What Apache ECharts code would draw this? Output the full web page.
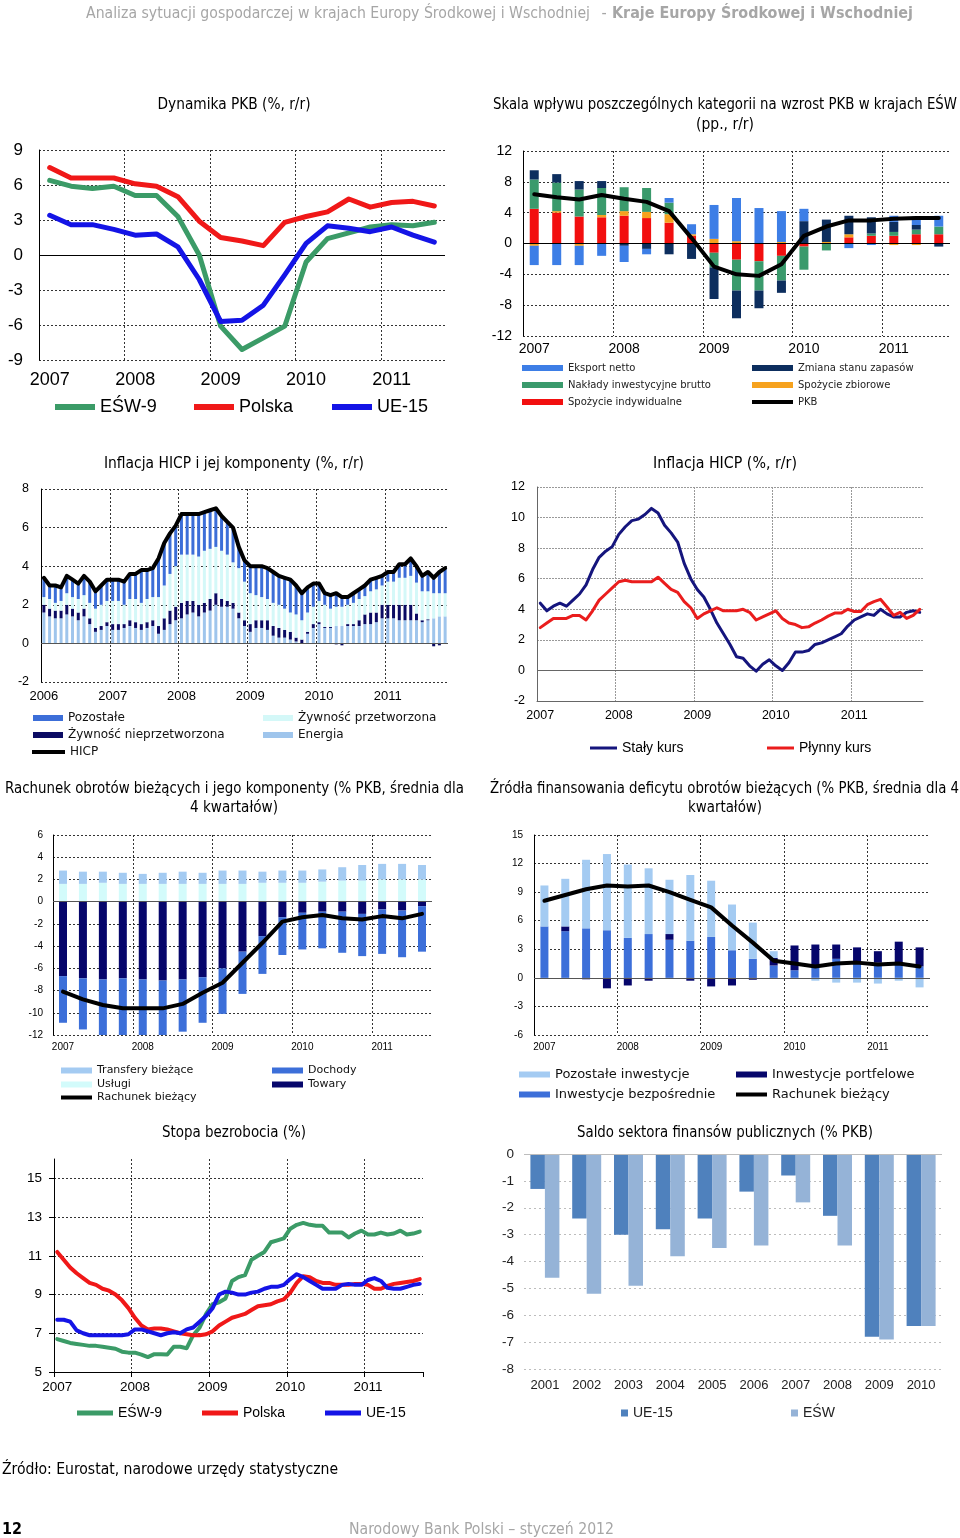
<!DOCTYPE html>
<html><head><meta charset="utf-8">
<script src="https://cdn.jsdelivr.net/npm/echarts@6/dist/echarts.min.js"></script>
<style>html,body{margin:0;padding:0;background:#fff}#c{width:960px;height:1538px}</style>
</head><body><div id="c"></div>
<script>
// ---------- categories ----------
const QUARTERS = ['2007Q1','2007Q2','2007Q3','2007Q4','2008Q1','2008Q2','2008Q3','2008Q4','2009Q1','2009Q2','2009Q3','2009Q4','2010Q1','2010Q2','2010Q3','2010Q4','2011Q1','2011Q2','2011Q3'];
function monthCats(y0, n){const a=[];for(let i=0;i<n;i++){const y=y0+Math.floor(i/12),m=i%12+1;a.push(y+'-'+(m<10?'0':'')+m);}return a;}
const MONTHS_2006 = monthCats(2006, 71);
const MONTHS_2007A = monthCats(2007, 59);
const MONTHS_2007B = monthCats(2007, 57);
const YEARS = ['2001','2002','2003','2004','2005','2006','2007','2008','2009','2010'];

// ---------- P1: Dynamika PKB ----------
const gdpESW = [6.4,5.9,5.7,5.9,5.1,5.1,3.3,0.0,-6.1,-8.1,-7.1,-6.1,-0.6,1.4,1.9,2.4,2.6,2.5,2.8];
const gdpPL  = [7.5,6.6,6.6,6.6,6.1,5.9,5.0,2.9,1.5,1.2,0.8,2.8,3.3,3.7,4.8,4.1,4.5,4.6,4.2];
const gdpEU  = [3.4,2.6,2.6,2.2,1.7,1.8,0.7,-2.1,-5.7,-5.6,-4.3,-1.7,1.0,2.5,2.3,2.0,2.4,1.7,1.1];

// ---------- P2: contributions ----------
const spozInd  = [4.5,4.0,3.5,3.4,3.6,3.3,2.7,1.0,-1.2,-2.1,-2.3,-1.6,-0.4,0,0.8,1.0,1.0,1.2,1.2];
const spozZb   = [-0.3,0.2,-0.3,0.3,0.6,0.8,1.1,0.2,0.6,0.3,0,0.2,0,0.2,0.4,0,-0.2,-0.2,0];
const naklady  = [3.8,3.7,3.5,3.5,3.1,3.1,1.5,0,-1.9,-4.0,-3.8,-3.2,-3.0,-0.9,0,0.3,0.5,0.6,1.0];
const zapasy   = [1.2,1.1,1.1,0.9,-0.3,-0.7,-1.4,-2.0,-4.1,-3.6,-2.3,-1.6,2.9,2.9,2.4,2.1,1.3,0.6,-0.4];
const eksport  = [-2.5,-2.8,-2.5,-1.6,-2.1,-0.7,0.6,1.3,4.4,5.6,4.6,4.0,1.6,0,-0.6,-0.2,0.8,1.1,1.4];
const pkbLine  = [6.4,6.0,5.7,6.3,5.8,5.4,4.2,0.7,-3.0,-4.0,-4.2,-2.7,1.0,2.2,3.0,3.0,3.2,3.3,3.3];

// ---------- P3: HICP components (monthly 2006-01 .. 2011-11) ----------
const energia = [1.6,1.4,1.3,1.3,1.5,1.4,1.2,1.4,1.0,0.6,0.7,0.9,
  0.7,0.7,0.8,0.9,0.8,0.7,0.8,0.9,0.5,0.7,1.0,1.2,
  1.3,1.5,1.6,1.4,1.6,1.7,2.0,1.9,1.9,1.8,1.3,0.9,
  0.6,0.8,0.8,0.7,0.4,0.3,0.3,0.2,0.1,0.0,0.5,0.8,
  1.0,0.8,0.8,0.9,0.9,0.9,0.9,0.9,1.0,1.0,1.1,1.3,
  1.3,1.3,1.2,1.2,1.2,1.2,1.1,1.2,1.3,1.4,1.4];
const zywNieprz = [0.4,0.4,0.4,0.4,0.5,0.4,0.4,0.4,0.3,0.2,0.2,0.2,
  0.3,0.3,0.2,0.3,0.3,0.3,0.3,0.3,0.4,0.6,0.7,0.7,
  0.8,0.7,0.6,0.6,0.5,0.6,0.6,0.4,0.3,0.3,0.3,0.3,
  0.4,0.4,0.4,0.5,0.5,0.5,0.4,0.4,0.2,0.2,0.1,0.2,
  0.1,0.05,0.05,-0.05,-0.1,0.1,0.1,0.3,0.5,0.6,0.5,0.7,
  0.7,0.7,0.8,0.8,0.8,0.35,0.1,0.05,-0.15,-0.1,0.0];
const zywPrzetw = [0.4,0.5,0.4,0.5,0.6,0.6,0.7,0.7,0.8,1.0,1.1,1.1,
  1.2,1.2,1.0,1.1,1.2,1.1,1.2,1.2,1.5,1.7,1.9,2.1,
  2.5,2.4,2.4,2.5,2.7,2.6,2.4,2.5,2.4,2.1,2.3,2.0,
  1.6,1.3,1.2,1.1,1.2,1.2,1.1,1.0,1.2,1.0,1.0,0.9,
  1.1,1.15,0.95,1.0,1.0,1.0,1.1,1.1,0.95,1.1,1.2,1.0,
  1.2,1.2,1.4,1.4,1.5,1.6,1.5,1.45,1.3,1.2,1.2];
const pozostale = [1.0,0.7,0.9,0.7,0.9,0.9,0.8,1.0,1.1,0.9,1.0,1.1,
  1.1,1.1,1.2,1.3,1.3,1.7,1.5,1.5,2.0,2.2,2.1,2.1,
  2.1,2.1,2.1,2.2,2.0,2.0,2.0,1.8,1.7,1.8,1.1,1.1,
  1.4,1.5,1.6,1.6,1.6,1.5,1.6,1.7,1.5,1.4,1.3,1.2,
  0.9,0.6,0.7,0.7,0.5,0.4,0.5,0.5,0.6,0.6,0.6,0.5,
  0.5,0.5,0.7,0.7,0.9,0.9,0.8,1.0,0.8,1.1,1.3];
const hicp = [3.4,3.0,3.0,2.9,3.5,3.3,3.1,3.5,3.2,2.7,3.0,3.3,
  3.3,3.3,3.2,3.6,3.6,3.8,3.8,3.9,4.4,5.2,5.7,6.1,
  6.7,6.7,6.7,6.7,6.8,6.9,7.0,6.6,6.3,6.0,5.0,4.3,
  4.0,4.0,4.0,3.9,3.7,3.5,3.4,3.3,3.0,2.6,2.9,3.1,
  3.1,2.6,2.5,2.6,2.4,2.4,2.6,2.8,3.0,3.3,3.4,3.5,
  3.7,3.7,4.1,4.1,4.4,4.0,3.5,3.7,3.4,3.7,3.9];

// ---------- P4: HICP fixed vs floating (monthly 2007-01 .. 2011-11) ----------
const stalyKurs = [4.4,3.9,4.2,4.4,4.2,4.6,5.0,5.6,6.6,7.4,7.8,8.1,
  8.9,9.4,9.8,9.9,10.2,10.6,10.3,9.5,9.0,8.4,7.0,6.0,
  5.3,4.8,4.0,3.1,2.4,1.7,0.9,0.8,0.3,-0.05,0.4,0.7,
  0.3,0.0,0.5,1.2,1.2,1.3,1.7,1.8,2.0,2.2,2.4,2.9,
  3.3,3.5,3.7,3.6,4.0,3.7,3.5,3.5,3.8,3.9,3.8];
const plynnyKurs = [2.8,3.1,3.4,3.4,3.4,3.6,3.6,3.3,3.9,4.6,5.0,5.4,
  5.8,5.9,5.8,5.8,5.8,5.8,6.1,5.7,5.3,5.1,4.5,4.1,
  3.4,3.7,3.9,4.1,3.9,3.9,3.9,4.0,3.8,3.3,3.5,3.7,
  3.9,3.4,3.1,3.0,2.8,2.85,3.1,3.3,3.55,3.75,3.75,4.0,
  3.85,3.85,4.3,4.5,4.65,4.15,3.6,3.8,3.4,3.6,4.0];

// ---------- P5: current account ----------
const uslugi    = [1.6,1.6,1.7,1.6,1.6,1.6,1.6,1.6,1.6,1.6,1.7,1.7,1.7,1.8,1.9,1.9,2.0,2.0,2.0];
const transfery = [1.2,1.1,1.0,1.0,0.9,1.0,1.1,1.0,1.2,1.2,1.0,1.1,1.1,1.1,1.2,1.4,1.4,1.4,1.3];
const towary    = [-6.7,-6.9,-7.0,-6.9,-7.0,-7.1,-7.0,-6.8,-6.0,-4.5,-3.1,-1.4,-1.0,-0.9,-0.9,-1.1,-0.7,-0.8,-0.4];
const dochody   = [-4.2,-4.6,-5.0,-5.2,-5.0,-5.0,-4.7,-4.1,-4.1,-3.8,-3.4,-3.4,-3.3,-3.3,-3.7,-3.8,-4.0,-4.2,-4.1];
const rachunek  = [-8.1,-8.8,-9.3,-9.6,-9.6,-9.6,-9.2,-8.2,-7.3,-5.5,-3.7,-1.8,-1.4,-1.2,-1.5,-1.6,-1.3,-1.5,-1.1];

// ---------- P6: financing ----------
const invBezp   = [5.4,4.9,5.2,5.0,4.2,4.6,4.0,3.9,4.3,2.9,2.0,1.3,0.8,1.2,2.0,1.6,1.6,1.5,1.2];
const invPortf  = [0,0.5,-0.15,-1.1,-0.8,-0.3,0.6,-0.3,-0.9,-0.8,-0.2,0.8,2.6,2.3,1.5,1.6,1.2,2.3,2.0];
const invPozost = [4.3,5.0,7.2,8.0,7.7,6.9,5.7,6.9,5.9,4.8,3.8,0.7,-0.1,-0.3,-0.5,-0.5,-0.6,-0.3,-1.0];
const deficyt   = [8.1,8.7,9.3,9.7,9.6,9.7,9.0,8.2,7.4,5.5,3.7,1.8,1.5,1.2,1.5,1.6,1.4,1.5,1.2];

// ---------- P7: unemployment (monthly 2007-01 .. 2011-09) ----------
const bezrESW = [6.7,6.6,6.5,6.45,6.4,6.35,6.35,6.3,6.25,6.2,6.05,6.0,
  6.0,5.9,5.77,5.92,5.92,5.9,6.3,6.3,6.23,6.9,7.3,8.0,
  8.5,8.6,8.8,9.7,9.9,10.0,10.8,11.0,11.2,11.7,11.8,11.9,
  12.4,12.6,12.7,12.6,12.55,12.55,12.2,12.2,12.2,11.95,12.15,12.3,
  12.1,12.1,12.2,12.1,12.15,12.3,12.1,12.15,12.25];
const bezrPL = [11.2,10.8,10.4,10.1,9.85,9.6,9.5,9.3,9.2,9.0,8.7,8.3,
  7.8,7.4,7.2,7.25,7.25,7.2,7.1,7.0,6.95,6.9,6.9,6.95,
  7.1,7.4,7.6,7.8,7.9,8.0,8.2,8.4,8.45,8.5,8.65,8.75,
  9.1,9.6,9.95,9.9,9.7,9.6,9.6,9.5,9.5,9.5,9.55,9.55,
  9.5,9.3,9.3,9.45,9.55,9.6,9.65,9.7,9.8];
const bezrEU = [7.7,7.7,7.6,7.15,7.0,6.9,6.9,6.9,6.9,6.9,6.9,6.95,
  7.2,7.2,7.1,7.0,6.9,7.0,7.05,7.0,7.2,7.3,7.6,7.9,
  8.3,9.0,9.15,9.1,9.0,9.0,9.1,9.15,9.3,9.4,9.4,9.5,
  9.8,10.05,9.9,9.7,9.5,9.3,9.3,9.3,9.5,9.55,9.5,9.5,
  9.75,9.85,9.7,9.35,9.3,9.3,9.4,9.5,9.55];
const bezrTicks = [5,7,9,11,13,15];

// ---------- P8: general government balance ----------
const saldoUE  = [-1.3,-2.4,-3.0,-2.8,-2.4,-1.4,-0.8,-2.3,-6.8,-6.4];
const saldoESW = [-4.6,-5.2,-4.9,-3.8,-3.5,-3.4,-1.8,-3.4,-6.9,-6.4];

// ================= build =================
const FA = "'Liberation Sans', Arial, sans-serif";
const FD = "'DejaVu Sans', Verdana, sans-serif";
const FT = "'DejaVu Sans Condensed', 'DejaVu Sans', sans-serif";
const GREEN='#3b9b67', RED='#f01818', BLUE='#1414e6';

const grids=[], xAxes=[], yAxes=[], series=[], legends=[], graphics=[];

function grid(l,t,w,h){grids.push({left:l,top:t,width:w,height:h,containLabel:false,outerBoundsMode:'none'});return grids.length-1;}
function xCat(gi,data,o){
  xAxes.push({type:'category',gridIndex:gi,data,boundaryGap:true,
    axisLine:{show:!!o.line,onZero:false,lineStyle:{color:o.lc||'#000',width:1}},
    axisTick:{show:!!o.tick,interval:o.iv,length:5,inside:false,lineStyle:{color:o.lc||'#000'}},
    axisLabel:{interval:o.iv,formatter:o.fmt||(v=>v.slice(0,4)),fontSize:o.fs,fontFamily:FA,color:o.tc||'#000',margin:o.m,hideOverlap:false},
    splitLine:{show:o.split!==false,interval:o.iv,showMinLine:true,showMaxLine:false,lineStyle:{color:o.gc||'#333',type:o.gt||[2,2],width:1}}});
}
function yVal(gi,o){
  yAxes.push({type:'value',gridIndex:gi,min:o.min,max:o.max,interval:o.iv,
    axisLine:{show:o.line!==false,onZero:false,lineStyle:{color:o.lc||'#000',width:1}},
    axisTick:{show:!!o.tick,length:5,lineStyle:{color:o.lc||'#000'},customValues:o.cv},
    axisLabel:{fontSize:o.fs,fontFamily:FA,color:o.tc||'#000',margin:o.m,customValues:o.cv,hideOverlap:false},
    splitLine:{show:true,customValues:o.cv,lineStyle:{color:o.gc||'#333',type:o.gt||[2,2],width:1}}});
}
function zeroLine(color){return {silent:true,symbol:['none','none'],label:{show:false},lineStyle:{color,type:'solid',width:1},data:[{yAxis:0}],animation:false};}
function line(gi,name,data,color,w,extra){series.push(Object.assign({type:'line',name,data,xAxisIndex:gi,yAxisIndex:gi,symbol:'none',z:5,
  lineStyle:{color,width:w,cap:'round',join:'round'},itemStyle:{color}},extra||{}));}
function bar(gi,name,data,color,stack,bw,extra){series.push(Object.assign({type:'bar',name,data,xAxisIndex:gi,yAxisIndex:gi,stack,barWidth:bw,
  itemStyle:{color}},extra||{}));}
function lg(name,color,x,yc,o){
  legends.push({show:true,data:[{name,icon:'rect',itemStyle:{color,borderWidth:0,borderColor:color}}],left:x,
    top:Math.round(yc-Math.max(o.h,o.fs)/2),padding:0,itemGap:0,itemWidth:o.w,itemHeight:o.h,selectedMode:false,
    textStyle:{fontSize:o.fs,fontFamily:o.ff||FA,color:o.c||'#000'}});
}
const cv=document.createElement('canvas').getContext('2d');
function T(text,x,y,o){
  o=o||{};const fs=o.fs||16,ff=o.ff||FT,fw=o.fw||'normal';
  cv.font=fw+' '+fs+'px '+ff;const m=cv.measureText(text).width;
  const s=o.w?o.w/m:1;
  graphics.push({type:'text',x,y:y+1.5,scaleX:s,silent:true,z:100,style:{text,fontSize:fs,fontFamily:ff,fontWeight:fw,fill:o.c||'#000',
    align:o.a||'center',verticalAlign:'middle',textAlign:o.a||'center',textVerticalAlign:'middle'}});
}

// ---- P1
let g=grid(39,150,406,210);
xCat(g,QUARTERS,{iv:3,fs:18,m:11});
yVal(g,{min:-9,max:9,iv:3,fs:17,m:16});
line(g,'EŚW-9',gdpESW,GREEN,5,{markLine:zeroLine('#000')});
line(g,'Polska',gdpPL,RED,5);
line(g,'UE-15',gdpEU,BLUE,5);
lg('EŚW-9',GREEN,55,407,{w:40,h:6,fs:18});
lg('Polska',RED,194,407,{w:40,h:6,fs:18});
lg('UE-15',BLUE,332,407,{w:40,h:6,fs:18});

// ---- P2
g=grid(523,151,427,185);
xCat(g,QUARTERS,{iv:3,fs:14,m:6});
yVal(g,{min:-12,max:12,iv:4,fs:14,m:11});
bar(g,'Spożycie indywidualne',spozInd,'#f20f0f','p2',9);
bar(g,'Spożycie zbiorowe',spozZb,'#f6a21e','p2',9);
bar(g,'Nakłady inwestycyjne brutto',naklady,'#3a9a6c','p2',9);
bar(g,'Zmiana stanu zapasów',zapasy,'#0d2e5e','p2',9);
bar(g,'Eksport netto',eksport,'#3d7ee6','p2',9);
line(g,'PKB',pkbLine,'#000',4,{markLine:zeroLine('#000')});
const o2={w:41,h:6,fs:10,ff:FD,c:'#222'};
lg('Eksport netto','#3d7ee6',522,368,o2);
lg('Nakłady inwestycyjne brutto','#3a9a6c',522,385,o2);
lg('Spożycie indywidualne','#f20f0f',522,402,o2);
lg('Zmiana stanu zapasów','#0d2e5e',752,368,o2);
lg('Spożycie zbiorowe','#f6a21e',752,385,o2);
lg('PKB','#000',752,402,Object.assign({},o2,{h:4}));

// ---- P3
g=grid(41,489,407,193);
xCat(g,MONTHS_2006,{iv:11,fs:13,m:8});
yVal(g,{min:-2,max:8,iv:2,fs:12.5,m:12});
bar(g,'Energia',energia,'#9fc5ec','p3',3);
bar(g,'Żywność nieprzetworzona',zywNieprz,'#0b0b63','p3',3);
bar(g,'Żywność przetworzona',zywPrzetw,'#d4f8f8','p3',3);
bar(g,'Pozostałe',pozostale,'#3c6ed8','p3',3);
line(g,'HICP',hicp,'#000',4,{markLine:zeroLine('#555')});
const o3={w:30,h:6,fs:12,ff:FD,c:'#111'};
lg('Pozostałe','#3c6ed8',33,718,o3);
lg('Żywność nieprzetworzona','#0b0b63',33,735,o3);
lg('HICP','#000',32,752,Object.assign({},o3,{w:33,h:4}));
lg('Żywność przetworzona','#d4f8f8',263,718,o3);
lg('Energia','#9fc5ec',263,735,o3);

// ---- P4
g=grid(537,487,386,214);
xCat(g,MONTHS_2007A,{iv:11,fs:12.5,m:8,line:true,lc:'#666',gc:'#999',gt:[2,1]});
yVal(g,{min:-2,max:12,iv:2,fs:12.5,m:12,lc:'#666',gc:'#999',gt:[2,1]});
line(g,'Stały kurs',stalyKurs,'#15157d',3,{markLine:zeroLine('#666')});
line(g,'Płynny kurs',plynnyKurs,'#ea1d1d',3);
lg('Stały kurs','#15157d',590,748,{w:27,h:3,fs:14});
lg('Płynny kurs','#ea1d1d',767,748,{w:27,h:3,fs:14});

// ---- P5
g=grid(53,835,379,200);
xCat(g,QUARTERS,{iv:3,fs:10,m:7});
yVal(g,{min:-12,max:6,iv:2,fs:10,m:10});
bar(g,'Usługi',uslugi,'#d3fbfb','p5',8);
bar(g,'Transfery bieżące',transfery,'#a4cbf2','p5',8);
bar(g,'Towary',towary,'#06066b','p5',8);
bar(g,'Dochody',dochody,'#3c6fd9','p5',8);
line(g,'Rachunek bieżący',rachunek,'#000',4,{markLine:zeroLine('#555')});
const o5={w:31,h:6,fs:11,ff:FD,c:'#111'};
lg('Transfery bieżące','#a4cbf2',61,1070,o5);
lg('Usługi','#d3fbfb',61,1084,o5);
lg('Rachunek bieżący','#000',61,1097,Object.assign({},o5,{h:4}));
lg('Dochody','#3c6fd9',272,1070,o5);
lg('Towary','#06066b',272,1084,o5);

// ---- P6
g=grid(534,835,396,200);
xCat(g,QUARTERS,{iv:3,fs:10,m:7});
yVal(g,{min:-6,max:15,iv:3,fs:10,m:11});
bar(g,'Inwestycje bezpośrednie',invBezp,'#3c6fd9','p6',8);
bar(g,'Inwestycje portfelowe',invPortf,'#06066b','p6',8);
bar(g,'Pozostałe inwestycje',invPozost,'#a4cbf2','p6',8);
line(g,'Rachunek bieżący',deficyt,'#000',4,{markLine:zeroLine('#555')});
const o6={w:31,h:6,fs:13,ff:FD,c:'#111'};
lg('Pozostałe inwestycje','#a4cbf2',519,1074,o6);
lg('Inwestycje bezpośrednie','#3c6fd9',519,1094,o6);
lg('Inwestycje portfelowe','#06066b',736,1074,o6);
lg('Rachunek bieżący','#000',736,1094,Object.assign({},o6,{h:4}));

// ---- P7
g=grid(54,1159,369,213);
xCat(g,MONTHS_2007B,{iv:11,fs:13.5,m:8,line:true,tick:true});
yVal(g,{min:5,max:16,iv:1,cv:bezrTicks,fs:13.5,m:12,tick:true});
line(g,'EŚW-9',bezrESW,GREEN,4);
line(g,'Polska',bezrPL,RED,4);
line(g,'UE-15',bezrEU,BLUE,4);
lg('EŚW-9',GREEN,77,1413,{w:36,h:5,fs:14});
lg('Polska',RED,202,1413,{w:36,h:5,fs:14});
lg('UE-15',BLUE,325,1413,{w:36,h:5,fs:14});

// ---- P8
g=grid(524,1154,418,215);
xCat(g,YEARS,{iv:0,fs:13,m:10,split:false,fmt:v=>v,tc:'#222'});
yVal(g,{min:-8,max:0,iv:1,fs:13.5,m:10,line:false,gc:'#bdbdbd',gt:[2,3],tc:'#222'});
bar(g,'UE-15',saldoUE,'#4f81bd',null,14.5,{barGap:'0%',markLine:zeroLine('#bdbdbd')});
bar(g,'EŚW',saldoESW,'#95b3d7',null,14.5,{barGap:'0%'});
lg('UE-15','#4f81bd',621,1413,{w:7,h:7,fs:14,c:'#222'});
lg('EŚW','#95b3d7',791,1413,{w:7,h:7,fs:14,c:'#222'});

// ---- texts
T('Analiza sytuacji gospodarczej w krajach Europy Środkowej i Wschodniej',86,12,{a:'left',w:504,c:'#a6a6a6'});
T('-',604,12,{c:'#a6a6a6'});
T('Kraje Europy Środkowej i Wschodniej',612,12,{a:'left',w:301,c:'#a6a6a6',fw:'bold'});
T('Dynamika PKB (%, r/r)',234,103,{w:153});
T('Skala wpływu poszczególnych kategorii na wzrost PKB w krajach EŚW',725,103,{w:464});
T('(pp., r/r)',725,123,{w:58});
T('Inflacja HICP i jej komponenty (%, r/r)',234,462,{w:260});
T('Inflacja HICP (%, r/r)',725,462,{w:144});
T('Rachunek obrotów bieżących i jego komponenty (% PKB, średnia dla',234.5,787,{w:459});
T('4 kwartałów)',234,806,{w:88});
T('Źródła finansowania deficytu obrotów bieżących (% PKB, średnia dla 4',724.5,787,{w:469});
T('kwartałów)',725,806,{w:74});
T('Stopa bezrobocia (%)',234,1131,{w:144});
T('Saldo sektora finansów publicznych (% PKB)',725,1131,{w:296});
T('Źródło: Eurostat, narodowe urzędy statystyczne',2,1468,{a:'left',w:336});
T('12',2,1528,{a:'left',fw:'bold',w:20});
T('Narodowy Bank Polski – styczeń 2012',349,1528,{a:'left',w:265,c:'#a6a6a6'});

const chart=echarts.init(document.getElementById('c'),null,{renderer:'canvas',width:960,height:1538});
chart.setOption({animation:false,backgroundColor:'#fff',grid:grids,xAxis:xAxes,yAxis:yAxes,series,legend:legends,graphic:{elements:graphics}});
</script></body></html>
